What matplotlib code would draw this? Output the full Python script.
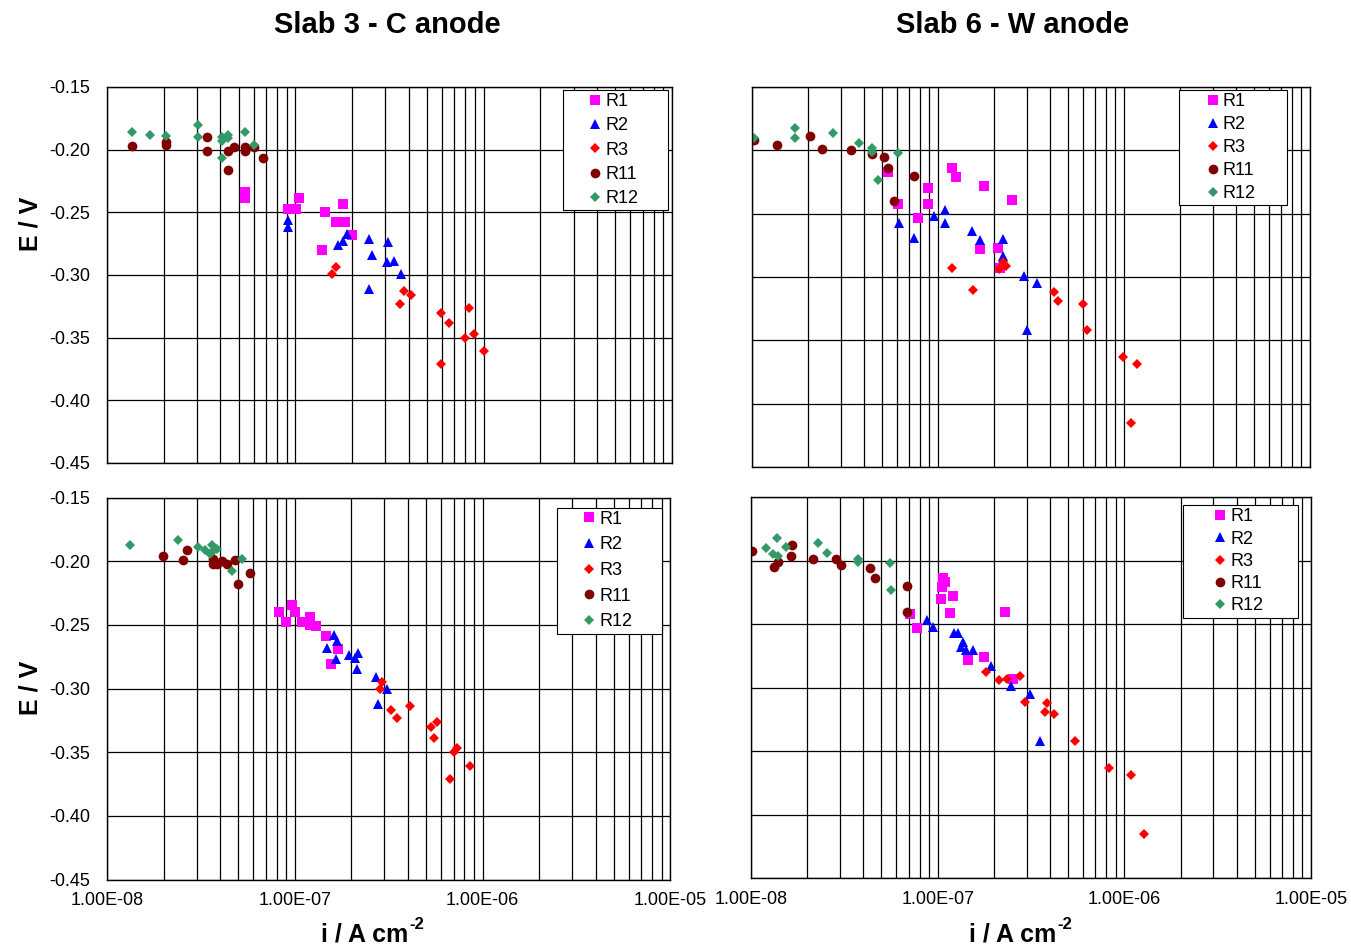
import numpy as np
import matplotlib
matplotlib.use("Agg")
import matplotlib.pyplot as plt
from matplotlib.ticker import FixedLocator, FuncFormatter, MultipleLocator, NullFormatter

plt.rcParams['font.family'] = ['Liberation Sans', 'DejaVu Sans']

# --- Slab 3 (C anode), first set ---
c1_R1_i = [5.42e-8, 5.42e-8, 1.04e-7, 9.09e-8, 1.01e-7, 1.44e-7, 1.79e-7, 1.65e-7, 1.83e-7, 2.01e-7, 1.38e-7]
c1_R1_E = [-0.234, -0.239, -0.239, -0.247, -0.247, -0.250, -0.243, -0.258, -0.258, -0.268, -0.280]
c1_R2_i = [9.10e-8, 9.10e-8, 1.69e-7, 1.79e-7, 1.89e-7, 2.46e-7, 2.54e-7, 3.11e-7, 3.06e-7, 3.34e-7, 3.65e-7, 2.46e-7]
c1_R2_E = [-0.256, -0.262, -0.276, -0.273, -0.267, -0.271, -0.284, -0.274, -0.290, -0.289, -0.299, -0.311]
c1_R3_i = [1.65e-7, 1.56e-7, 3.77e-7, 4.09e-7, 3.58e-7, 5.97e-7, 6.53e-7, 8.40e-7, 8.00e-7, 8.93e-7, 1.00e-6, 5.97e-7]
c1_R3_E = [-0.294, -0.299, -0.313, -0.316, -0.323, -0.330, -0.338, -0.326, -0.350, -0.347, -0.361, -0.371]
c1_R11_i = [1.35e-8, 2.05e-8, 2.05e-8, 3.38e-8, 3.38e-8, 4.38e-8, 4.72e-8, 5.42e-8, 5.42e-8, 6.07e-8, 6.75e-8, 4.38e-8]
c1_R11_E = [-0.197, -0.194, -0.196, -0.190, -0.201, -0.201, -0.198, -0.198, -0.201, -0.198, -0.207, -0.216]
c1_R12_i = [1.35e-8, 1.69e-8, 2.05e-8, 3.04e-8, 3.04e-8, 4.07e-8, 4.07e-8, 4.38e-8, 4.38e-8, 5.42e-8, 6.07e-8, 4.07e-8]
c1_R12_E = [-0.186, -0.188, -0.189, -0.180, -0.190, -0.190, -0.193, -0.188, -0.191, -0.186, -0.196, -0.207]

# --- Slab 6 (W anode), first set ---
w1_R1_i = [5.42e-8, 6.10e-8, 7.81e-8, 8.83e-8, 8.83e-8, 1.19e-7, 1.25e-7, 1.76e-7, 2.51e-7, 1.69e-7, 2.10e-7, 2.16e-7]
w1_R1_E = [-0.217, -0.242, -0.253, -0.230, -0.242, -0.214, -0.221, -0.228, -0.239, -0.278, -0.277, -0.293]
w1_R2_i = [6.14e-8, 7.46e-8, 9.49e-8, 1.085e-7, 1.085e-7, 1.52e-7, 1.69e-7, 2.24e-7, 2.24e-7, 2.91e-7, 3.41e-7, 3.01e-7]
w1_R2_E = [-0.257, -0.269, -0.252, -0.247, -0.257, -0.264, -0.271, -0.270, -0.283, -0.299, -0.305, -0.342]
w1_R3_i = [1.19e-7, 1.55e-7, 2.12e-7, 2.24e-7, 2.33e-7, 4.20e-7, 4.42e-7, 6.02e-7, 6.32e-7, 9.83e-7, 1.18e-6, 1.09e-6]
w1_R3_E = [-0.293, -0.310, -0.294, -0.288, -0.291, -0.312, -0.319, -0.321, -0.342, -0.363, -0.369, -0.415]
w1_R11_i = [1.02e-8, 1.36e-8, 2.04e-8, 2.38e-8, 3.40e-8, 4.42e-8, 5.10e-8, 5.42e-8, 7.46e-8, 5.77e-8]
w1_R11_E = [-0.192, -0.196, -0.189, -0.199, -0.200, -0.203, -0.205, -0.214, -0.220, -0.240]
w1_R12_i = [1.02e-8, 1.71e-8, 1.71e-8, 2.72e-8, 3.74e-8, 4.42e-8, 4.42e-8, 6.10e-8, 4.76e-8]
w1_R12_E = [-0.190, -0.182, -0.190, -0.186, -0.194, -0.198, -0.201, -0.202, -0.223]

# --- Slab 3 (C anode), second set ---
c2_R1_i = [8.25e-8, 9.60e-8, 1.00e-7, 8.96e-8, 1.094e-7, 1.20e-7, 1.20e-7, 1.29e-7, 1.46e-7, 1.70e-7, 1.565e-7]
c2_R1_E = [-0.240, -0.234, -0.240, -0.248, -0.248, -0.244, -0.250, -0.251, -0.259, -0.269, -0.281]
c2_R2_i = [1.61e-7, 1.68e-7, 1.49e-7, 1.65e-7, 1.94e-7, 2.09e-7, 2.17e-7, 2.13e-7, 2.70e-7, 3.10e-7, 2.78e-7]
c2_R2_E = [-0.258, -0.263, -0.268, -0.277, -0.274, -0.276, -0.272, -0.285, -0.291, -0.300, -0.312]
c2_R3_i = [2.90e-7, 2.84e-7, 3.24e-7, 3.49e-7, 4.10e-7, 5.30e-7, 5.69e-7, 5.52e-7, 7.27e-7, 7.06e-7, 8.55e-7, 6.69e-7]
c2_R3_E = [-0.295, -0.300, -0.317, -0.323, -0.314, -0.330, -0.326, -0.339, -0.347, -0.350, -0.361, -0.371]
c2_R11_i = [1.99e-8, 2.54e-8, 2.67e-8, 3.67e-8, 3.67e-8, 3.85e-8, 4.07e-8, 4.36e-8, 4.79e-8, 5.76e-8, 4.99e-8]
c2_R11_E = [-0.196, -0.199, -0.191, -0.198, -0.202, -0.202, -0.200, -0.202, -0.199, -0.209, -0.218]
c2_R12_i = [1.32e-8, 2.39e-8, 3.03e-8, 3.31e-8, 3.60e-8, 3.83e-8, 3.52e-8, 3.66e-8, 5.20e-8, 4.63e-8]
c2_R12_E = [-0.187, -0.183, -0.189, -0.191, -0.187, -0.190, -0.194, -0.192, -0.198, -0.208]

# --- Slab 6 (W anode), second set ---
w2_R1_i = [7.14e-8, 7.77e-8, 1.073e-7, 1.10e-7, 1.06e-7, 1.047e-7, 1.21e-7, 1.16e-7, 1.45e-7, 1.77e-7, 2.29e-7, 2.54e-7]
w2_R1_E = [-0.242, -0.253, -0.214, -0.217, -0.221, -0.230, -0.228, -0.241, -0.278, -0.276, -0.240, -0.293]
w2_R2_i = [8.79e-8, 9.48e-8, 1.228e-7, 1.284e-7, 1.366e-7, 1.41e-7, 1.545e-7, 1.92e-7, 2.46e-7, 3.14e-7, 3.54e-7, 1.34e-7]
w2_R2_E = [-0.247, -0.252, -0.257, -0.257, -0.264, -0.270, -0.270, -0.283, -0.299, -0.305, -0.342, -0.268]
w2_R3_i = [1.82e-7, 2.13e-7, 2.36e-7, 2.75e-7, 2.92e-7, 3.84e-7, 3.75e-7, 4.19e-7, 5.45e-7, 8.31e-7, 1.086e-6, 1.27e-6]
w2_R3_E = [-0.288, -0.294, -0.293, -0.291, -0.311, -0.312, -0.319, -0.321, -0.342, -0.363, -0.369, -0.415]
w2_R11_i = [1.016e-8, 1.65e-8, 1.63e-8, 1.39e-8, 1.32e-8, 2.15e-8, 2.85e-8, 3.03e-8, 4.35e-8, 4.60e-8, 6.85e-8, 6.85e-8]
w2_R11_E = [-0.192, -0.188, -0.196, -0.201, -0.205, -0.199, -0.199, -0.203, -0.206, -0.214, -0.220, -0.240]
w2_R12_i = [1.21e-8, 1.37e-8, 1.31e-8, 1.40e-8, 1.54e-8, 2.29e-8, 2.56e-8, 3.75e-8, 3.75e-8, 5.58e-8, 5.61e-8]
w2_R12_E = [-0.190, -0.182, -0.195, -0.196, -0.189, -0.186, -0.194, -0.199, -0.201, -0.202, -0.223]

labels = ["R1", "R2", "R3", "R11", "R12"]
colors = ["#FF00FF", "#0000FF", "#FF0000", "#800000", "#339966"]
markers = ["s", "^", "D", "o", "D"]
msizes = [7.0, 7.0, 5.5, 7.0, 5.3]

panels = {
    "c1": [(c1_R1_i, c1_R1_E), (c1_R2_i, c1_R2_E), (c1_R3_i, c1_R3_E), (c1_R11_i, c1_R11_E), (c1_R12_i, c1_R12_E)],
    "w1": [(w1_R1_i, w1_R1_E), (w1_R2_i, w1_R2_E), (w1_R3_i, w1_R3_E), (w1_R11_i, w1_R11_E), (w1_R12_i, w1_R12_E)],
    "c2": [(c2_R1_i, c2_R1_E), (c2_R2_i, c2_R2_E), (c2_R3_i, c2_R3_E), (c2_R11_i, c2_R11_E), (c2_R12_i, c2_R12_E)],
    "w2": [(w2_R1_i, w2_R1_E), (w2_R2_i, w2_R2_E), (w2_R3_i, w2_R3_E), (w2_R11_i, w2_R11_E), (w2_R12_i, w2_R12_E)],
}

# axes rectangle (figure fraction); legend box left, width, top (axes fraction);
# legend row spacing; legend handle length
layout = {
    "c1": ([0.0792, 0.5106, 0.4182, 0.3975], (0.807, 0.186, 0.992), 0.40, 3.2),
    "w1": ([0.5566, 0.5063, 0.4130, 0.4017], (0.765, 0.194, 0.992), 0.33, 3.4),
    "c2": ([0.0794, 0.0702, 0.4167, 0.4038], (0.799, 0.187, 0.974), 0.48, 3.2),
    "w2": ([0.5559, 0.0717, 0.4145, 0.4027], (0.771, 0.205, 0.979), 0.29, 3.8),
}

W, H = 1351, 946
fig = plt.figure(figsize=(W / 100, H / 100), dpi=100)

grid_x = [m * 10.0 ** d for d in (-8, -7, -6) for m in range(1, 10)] + [1e-5]

for key, series in panels.items():
    rect, (lx, lw, ltop), lsp, hlen = layout[key]
    ax = fig.add_axes(rect)
    for (xi, yi), lab, c, m, ms in zip(series, labels, colors, markers, msizes):
        ax.plot(xi, yi, linestyle="none", marker=m, color=c, markersize=ms,
                markeredgewidth=0, label=lab)

    ax.set_xscale("log")
    ax.set_xlim(1e-8, 1e-5)
    ax.set_ylim(-0.45, -0.15)

    # gridlines at every log step and every 0.05 V
    for gx in grid_x:
        ax.axvline(gx, color="black", linewidth=0.9, zorder=0)
    ax.yaxis.set_major_locator(MultipleLocator(0.05))
    ax.grid(axis="y", color="black", linewidth=0.9, zorder=0)
    ax.xaxis.set_major_locator(FixedLocator([1e-8, 1e-7, 1e-6, 1e-5]))
    ax.xaxis.set_minor_formatter(NullFormatter())
    ax.tick_params(which="both", length=0, labelsize=13)
    ax.tick_params(axis="y", pad=12)
    ax.tick_params(axis="x", pad=9)

    for sp in ax.spines.values():
        sp.set_linewidth(1.0)
        sp.set_color("black")

    if key.startswith("c"):
        ax.yaxis.set_major_formatter(FuncFormatter(lambda v, p: f"{v:.2f}"))
    else:
        ax.yaxis.set_major_formatter(NullFormatter())

    if key.endswith("2"):
        ax.xaxis.set_major_formatter(FuncFormatter(lambda v, p: f"{v:.2E}"))
    else:
        ax.xaxis.set_major_formatter(NullFormatter())

    # marker sits mid-handle; pull the label back so it starts just after it
    leg = ax.legend(loc="upper left", bbox_to_anchor=(lx, 0, lw, ltop), mode="expand",
                    borderaxespad=0, fontsize=13, labelspacing=lsp,
                    handlelength=hlen, handletextpad=-(hlen / 2 - 0.55), borderpad=0.18,
                    fancybox=False, framealpha=1, edgecolor="black")
    leg.get_frame().set_linewidth(0.8)

fig.text(387 / W, 1 - 25 / H, "Slab 3 - C anode", fontsize=21,
         fontweight="bold", ha="center", va="center")
fig.text(1013 / W, 1 - 25 / H, "Slab 6 - W anode", fontsize=21,
         fontweight="bold", ha="center", va="center")

# y-axis titles
for yc in (224, 688):
    fig.text(30 / W, 1 - yc / H, "E / V", fontsize=18, fontweight="bold",
             rotation=90, ha="center", va="center")

# x-axis titles with a bold "-2" superscript
fig.canvas.draw()
renderer = fig.canvas.get_renderer()
for x0 in (321, 969):
    t = fig.text(x0 / W, 1 - 941 / H, "i / A cm", fontsize=18, fontweight="bold",
                 ha="left", va="baseline")
    bb = t.get_window_extent(renderer)
    fig.text((bb.x1 + 1) / W, 1 - 929 / H, "-2", fontsize=12, fontweight="bold",
             ha="left", va="baseline")

fig.savefig("out.png", dpi=100)
